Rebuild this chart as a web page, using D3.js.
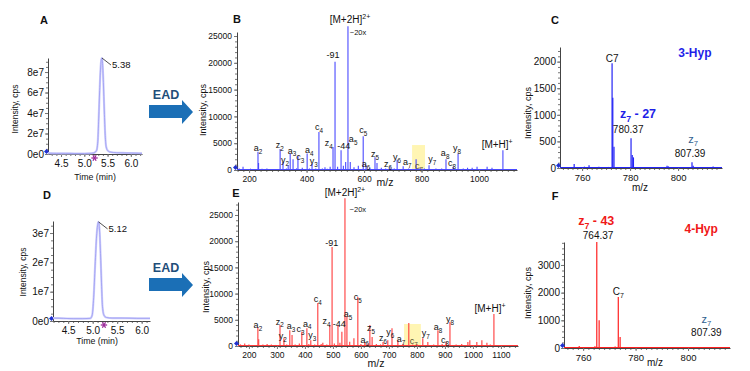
<!DOCTYPE html>
<html>
<head>
<meta charset="utf-8">
<script src="https://cdn.jsdelivr.net/npm/d3@7"></script>
<style>
  body { margin: 0; background: #fff; }
  svg { font-family: "Liberation Sans", Arial, sans-serif; }
</style>
</head>
<body>
<div id="fig"></div>
<script>
// ---- chromatograms (time in min, intensity in cps) ----
const aTime = [4.22, 4.4, 4.6, 4.8, 5.0, 5.1, 5.2, 5.26, 5.29, 5.31, 5.33, 5.35, 5.37, 5.38, 5.39, 5.41, 5.43, 5.45, 5.47, 5.5, 5.55, 5.7, 5.9, 6.1, 6.24];
const aInt = [0.08, 0.06, 0.06, 0.05, 0.05, 0.06, 0.1, 0.3, 1.2, 3.5, 6.2, 8.4, 9.3, 9.37, 9.0, 7.0, 4.2, 1.8, 0.7, 0.35, 0.2, 0.12, 0.1, 0.08, 0.07].map(v => v * 1e7);
const dTime = [4.19, 4.4, 4.6, 4.8, 4.95, 4.99, 5.02, 5.05, 5.08, 5.11, 5.12, 5.14, 5.16, 5.18, 5.2, 5.23, 5.28, 5.4, 5.6, 5.9, 6.17];
const dInt = [0.1, 0.09, 0.08, 0.08, 0.09, 0.2, 0.8, 1.9, 2.9, 3.35, 3.38, 3.1, 2.3, 1.3, 0.5, 0.2, 0.12, 0.1, 0.1, 0.09, 0.09].map(v => v * 1e7);
const aYTicks = [0, 2e7, 4e7, 6e7, 8e7];
const dYTicks = [0, 1e7, 2e7, 3e7];
const timeTicks = [4.5, 5.0, 5.5, 6.0];

// ---- EAD spectra, full range ----
const bMz = [160, 166, 179, 190, 205, 218, 231, 233, 245, 262, 275, 290, 308, 318, 330, 336, 343, 353, 365, 370, 385, 402, 410, 419, 432, 443, 455, 464, 472, 482, 492, 499, 508, 520, 528, 536, 544, 552, 565, 580, 597, 607, 620, 638, 645, 660, 675, 690, 705, 715, 736, 755, 781, 795, 810, 826, 850, 870, 885, 910, 927, 945, 960, 976, 993, 1010, 1028, 1045, 1060, 1083, 1100, 1120];
const bInt = [900, 300, 600, 200, 250, 150, 3400, 1300, 250, 300, 200, 200, 3900, 1500, 300, 900, 3100, 2000, 300, 2600, 400, 3100, 300, 1100, 300, 7100, 300, 500, 250, 600, 4300, 20200, 600, 3700, 800, 1500, 26800, 1500, 500, 800, 6300, 900, 400, 2400, 1300, 400, 300, 600, 300, 1900, 700, 300, 2000, 400, 300, 900, 300, 300, 2000, 600, 3100, 300, 400, 400, 600, 200, 600, 400, 200, 3700, 150, 150];
const eMz = [163, 170, 185, 200, 215, 232, 235, 250, 265, 280, 295, 311, 325, 335, 346, 354, 365, 380, 389, 407, 414, 421, 435, 446, 458, 464, 478, 489, 497, 505, 518, 525, 532, 543, 550, 560, 575, 589, 600, 614, 625, 632, 640, 655, 670, 679, 696, 711, 732, 750, 771, 785, 800, 821, 839, 860, 875, 890, 904, 918, 940, 960, 982, 989, 1014, 1032, 1050, 1062, 1075, 1100, 1130, 1150];
const eInt = [700, 300, 500, 300, 200, 3600, 1300, 300, 400, 300, 200, 4000, 1500, 300, 3000, 2100, 300, 500, 2700, 3400, 400, 1100, 300, 8200, 400, 600, 300, 4000, 18900, 500, 4000, 600, 2700, 28200, 5700, 800, 1500, 9350, 400, 750, 500, 4000, 1700, 400, 300, 750, 1100, 3400, 1100, 400, 4400, 300, 400, 1500, 750, 300, 3000, 400, 750, 4600, 300, 400, 750, 1100, 750, 1100, 600, 300, 6100, 200, 200, 150];
const bMzTicks = [200, 400, 600, 800, 1000];
const eMzTicks = [200, 300, 400, 500, 600, 700, 800, 900, 1000, 1100];
const specYTicks = [0, 5000, 10000, 15000, 20000, 25000];

// fragment labels: [text, subscript, m/z, intensity at baseline]
const bLabels = [
  ["a", "2", 231, 3500], ["z", "2", 307, 4050], ["y", "2", 325, 1300], ["a", "3", 349, 3050],
  ["c", "3", 378, 1800], ["a", "4", 409, 3150], ["y", "3", 425, 1050], ["c", "4", 443, 7460],
  ["z", "4", 477, 4480], ["-44", "", 529, 3900], ["-91", "", 492, 20900], ["a", "5", 562, 5220],
  ["c", "5", 597, 6900], ["a", "6", 607, 560], ["z", "5", 638, 2430], ["z", "6", 683, 560],
  ["y", "6", 715, 1870], ["a", "7", 750, 930], ["c", "7", 791, 190], ["y", "7", 837, 1490],
  ["a", "8", 882, 2610], ["c", "8", 906, 750], ["y", "8", 923, 3540]
];
const eLabels = [
  ["a", "2", 232, 3440], ["z", "2", 310, 4050], ["y", "2", 321, 1300], ["a", "3", 350, 3240],
  ["c", "3", 384, 2600], ["a", "4", 408, 3700], ["y", "3", 426, 1550], ["c", "4", 446, 8400],
  ["-91", "", 496, 19080], ["z", "4", 477, 4200], ["-44", "", 523, 3630], ["a", "5", 554, 5530],
  ["c", "5", 589, 8800], ["a", "6", 614, 570], ["z", "5", 636, 2860], ["z", "6", 679, 950],
  ["y", "6", 705, 2100], ["a", "7", 743, 760], ["c", "7", 789, 380], ["y", "7", 832, 1900],
  ["a", "8", 875, 3050], ["c", "8", 900, 570], ["y", "8", 918, 4580]
];
// precursor labels: [text, superscript, m/z, intensity]
const bPrecursor = [["[M+2H]", "2+", 551, 27400], ["[M+H]", "+", 1063, 4100]];
const ePrecursor = [["[M+2H]", "2+", 543, 28600], ["[M+H]", "+", 1061, 6490]];
const bZoomNote = [579, 25200];
const eZoomNote = [589, 25570];
const bHighlight = [767, 812, 4660];
const eHighlight = [754, 814, 4200];

// ---- zoomed spectra around c7 ----
const cMz = [751.5, 754, 756.7, 759, 761, 762.9, 765, 767, 769, 771, 772.5, 772.8, 773.3, 775, 777, 779, 780.4, 780.9, 781.4, 783, 785, 787, 790, 793, 795.4, 796, 799, 802, 805.8, 806.3, 809, 812, 814.6, 817];
const cInt = [20, 15, 75, 20, 25, 50, 20, 25, 15, 20, 1970, 1320, 400, 20, 15, 20, 560, 245, 200, 20, 15, 20, 15, 20, 40, 30, 15, 20, 110, 40, 20, 15, 30, 15];
const fMz = [754, 756, 758.5, 760.5, 762.7, 764.5, 765.2, 766.1, 768, 770, 772.2, 773.4, 774.1, 776, 778, 781.8, 784, 787, 790, 793, 797, 800, 802, 804.7, 807, 810, 813, 815];
const fInt = [15, 20, 70, 20, 40, 60, 3830, 1000, 20, 15, 50, 1840, 400, 20, 15, 30, 15, 20, 15, 20, 30, 15, 20, 40, 20, 15, 20, 15];
const zoomMzTicks = [760, 780, 800];
const cYTicks = [0, 500, 1000, 1500, 2000];
const fYTicks = [0, 1000, 2000, 3000];

const W = 750, H = 371;
const svg = d3.select("#fig").append("svg").attr("width", W).attr("height", H);

function axes(g, x, y, c) {
  const x0 = x.range()[0], yb = y.range()[0];
  const mx = g.append("g").attr("transform", `translate(0,${yb})`)
    .call(d3.axisBottom(x).tickValues(c.xMinor).tickSize(2).tickFormat(""));
  mx.select(".domain").remove();
  const my = g.append("g").attr("transform", `translate(${x0},0)`)
    .call(d3.axisLeft(y).tickValues(c.yMinor).tickSize(2).tickFormat(""));
  my.select(".domain").remove();
  g.append("g").attr("transform", `translate(0,${yb})`)
    .call(d3.axisBottom(x).tickValues(c.xTicks).tickSize(3).tickSizeOuter(0)
      .tickPadding(c.xPad).tickFormat(c.xFmt))
    .selectAll("text").attr("font-size", c.xFont).attr("fill", "#111");
  g.append("g").attr("transform", `translate(${x0},0)`)
    .call(d3.axisLeft(y).tickValues(c.yTicks).tickSize(3).tickSizeOuter(0)
      .tickPadding(c.yPad).tickFormat(c.yFmt))
    .selectAll("text").attr("font-size", c.yFont).attr("fill", "#111");
  g.selectAll(".domain").attr("stroke", "#444");
  g.selectAll(".tick line").attr("stroke", "#777");
  g.selectAll("text").attr("font-family", null);

  // blue marker at origin
  g.append("path")
    .attr("d", `M${x0 - 4},${yb - 2.5} l2.5,-2.5 l2.5,2.5 l-2.5,2.5 z`)
    .attr("fill", "#1f2fd0");

  g.append("text").attr("transform", `translate(${c.yTitle[0]},${c.yTitle[1]}) rotate(-90)`)
    .attr("text-anchor", "middle").attr("dy", "0.35em")
    .attr("font-size", c.yTitleFont).attr("fill", "#111").text("Intensity, cps");
  if (c.xTitleText) {
    g.append("text").attr("x", c.xTitle[0]).attr("y", c.xTitle[1])
      .attr("text-anchor", "middle").attr("font-size", c.xTitleFont).attr("fill", "#111")
      .text(c.xTitleText);
  }
}

function sciFmt(d) { return d === 0 ? "0e0" : (d / 1e7) + "e7"; }

function chromatogram(c) {
  const x = d3.scaleLinear().domain(c.xDomain).range(c.xRange);
  const y = d3.scaleLinear().domain(c.yDomain).range(c.yRange);
  const g = svg.append("g");
  axes(g, x, y, c);
  const pts = d3.zip(c.time, c.int);
  const line = d3.line().x(d => x(d[0])).y(d => y(d[1])).curve(d3.curveMonotoneX);
  g.append("path").datum(pts).attr("d", line)
    .attr("fill", "none").attr("stroke", "#cfcffb").attr("stroke-width", 2.2);
  g.append("path").datum(pts).attr("d", line)
    .attr("fill", "none").attr("stroke", "#9a9af2").attr("stroke-width", 0.8);
  // apex annotation
  const apex = pts[d3.maxIndex(pts, d => d[1])];
  const ax = x(apex[0]), ay = y(apex[1]);
  g.append("line").attr("x1", ax).attr("y1", ay).attr("x2", ax + 9).attr("y2", ay + 7)
    .attr("stroke", "#222").attr("stroke-width", 0.8);
  g.append("text").attr("x", ax + 10).attr("y", ay + 10).attr("font-size", 9.5)
    .attr("fill", "#111").text(apex[0].toFixed(2));
  // injection mark under the axis
  const sx = x(c.mark), sy = y.range()[0] + 4;
  const star = g.append("g").attr("stroke", "#9b2a9b").attr("stroke-width", 1.3);
  [0, 60, 120].forEach(a => {
    const r = a * Math.PI / 180;
    star.append("line").attr("x1", sx - 3.2 * Math.cos(r)).attr("y1", sy - 3.2 * Math.sin(r))
      .attr("x2", sx + 3.2 * Math.cos(r)).attr("y2", sy + 3.2 * Math.sin(r));
  });
}

function addLabel(g, px, py, txt, small, opt) {
  const t = g.append("text").attr("x", px).attr("y", py).attr("text-anchor", "middle")
    .attr("font-size", opt.size).attr("fill", opt.color || "#111")
    .attr("font-weight", opt.bold ? "bold" : null);
  t.append("tspan").text(txt);
  if (small) {
    t.append("tspan").attr("font-size", opt.size * 0.7)
      .attr("dy", opt.sup ? -opt.size * 0.4 : opt.size * 0.3).text(small);
  }
  if (opt.tail) t.append("tspan").attr("dy", opt.sup ? opt.size * 0.4 : -opt.size * 0.3).text(opt.tail);
  return t;
}

function spectrum(c) {
  const x = d3.scaleLinear().domain(c.xDomain).range(c.xRange);
  const y = d3.scaleLinear().domain(c.yDomain).range(c.yRange);
  const g = svg.append("g");
  if (c.box) {
    g.append("rect").attr("x", x(c.box[0])).attr("y", y(c.box[2]))
      .attr("width", x(c.box[1]) - x(c.box[0])).attr("height", y(0) - y(c.box[2]))
      .attr("fill", "#fff3a6").attr("opacity", 0.85);
  }
  g.selectAll("line.pk").data(d3.zip(c.mz, c.int)).join("line").attr("class", "pk")
    .attr("x1", d => x(d[0])).attr("x2", d => x(d[0]))
    .attr("y1", y(0)).attr("y2", d => y(d[1]))
    .attr("stroke", c.color).attr("stroke-width", c.barW || 1.1);
  axes(g, x, y, c);
  g.append("line").attr("x1", x.range()[0]).attr("x2", x.range()[1])
    .attr("y1", y(0) - 0.5).attr("y2", y(0) - 0.5)
    .attr("stroke", c.color).attr("stroke-width", 1);
  return { g, x, y };
}

// ---- arrows ----
[0, 173].forEach(dy => {
  svg.append("path")
    .attr("d", `M149,${105 + dy} L182,${105 + dy} L182,${100 + dy} L193,${112 + dy} L182,${124 + dy} L182,${118 + dy} L149,${118 + dy} Z`)
    .attr("fill", "#1b6fb6");
  svg.append("text").attr("x", 166).attr("y", 99 + dy).attr("text-anchor", "middle")
    .attr("font-size", 12.5).attr("font-weight", "bold").attr("fill", "#1f4e79").text("EAD");
});

// ---- panel letters ----
[["A", 44, 24], ["D", 47, 199], ["B", 237, 23], ["E", 236, 197], ["C", 555, 24], ["F", 555, 200]]
  .forEach(p => svg.append("text").attr("x", p[1]).attr("y", p[2]).attr("text-anchor", "middle")
    .attr("font-size", 11).attr("font-weight", "bold").attr("fill", "#111").text(p[0]));

// ---- A / D ----
const chromCommon = {
  xTicks: timeTicks, xFmt: d3.format(".1f"), xPad: 3, xFont: 10, yPad: 1, yFont: 10,
  yFmt: sciFmt, yTitleFont: 8.5, xTitleFont: 8.8, xTitleText: "Time (min)"
};
chromatogram(Object.assign({}, chromCommon, {
  time: aTime, int: aInt, xDomain: [4.22, 6.24], xRange: [48, 142], yDomain: [0, 9.37e7], yRange: [154, 58],
  yTicks: aYTicks, xMinor: d3.range(4.3, 6.21, 0.1), yMinor: d3.range(0, 9.3e7, 0.5e7),
  yTitle: [15, 109], xTitle: [95, 180], mark: 5.22
}));
chromatogram(Object.assign({}, chromCommon, {
  time: dTime, int: dInt, xDomain: [4.19, 6.17], xRange: [53, 150], yDomain: [0, 3.41e7], yRange: [321, 221],
  yTicks: dYTicks, xMinor: d3.range(4.2, 6.16, 0.1), yMinor: d3.range(0, 3.4e7, 0.25e7),
  yTitle: [23, 272], xTitle: [97, 344], mark: 5.23
}));

// ---- B / E ----
function fullSpectrum(c, labels, prec, note) {
  const s = spectrum(c);
  labels.forEach(l => addLabel(s.g, s.x(l[2]), s.y(l[3]), l[0], l[1],
    { size: 9, color: l[0] === "c" && l[1] === "7" ? "#5a5030" : "#111" }));
  prec.forEach(p => addLabel(s.g, s.x(p[2]), s.y(p[3]), p[0], p[1], { size: 10, sup: true }));
  s.g.append("text").attr("x", s.x(note[0])).attr("y", s.y(note[1])).attr("text-anchor", "middle")
    .attr("font-size", 7.5).attr("fill", "#111").text("~20x");
  s.g.append("text").attr("x", c.mzTitle[0]).attr("y", c.mzTitle[1]).attr("text-anchor", "middle")
    .attr("font-size", 10.5).attr("fill", "#111").text("m/z");
}
const fullCommon = {
  xFmt: d3.format("d"), xPad: 3, xFont: 8.5, yPad: 2, yFont: 8.5, yFmt: d3.format("d"),
  yTicks: specYTicks, yTitleFont: 9, xTitleText: ""
};
fullSpectrum(Object.assign({}, fullCommon, {
  mz: bMz, int: bInt, color: "#4a4aff", xDomain: [158, 1132], xRange: [237, 517],
  yDomain: [0, 25750], yRange: [170, 32], xTicks: bMzTicks,
  xMinor: d3.range(160, 1131, 20), yMinor: d3.range(0, 25700, 1000),
  yTitle: [203, 110], mzTitle: [385, 186], box: bHighlight
}), bLabels, bPrecursor, bZoomNote);
fullSpectrum(Object.assign({}, fullCommon, {
  mz: eMz, int: eInt, color: "#ff3b3b", xDomain: [161, 1161], xRange: [238, 518],
  yDomain: [0, 27480], yRange: [346, 202], xTicks: eMzTicks,
  xMinor: d3.range(170, 1160, 20), yMinor: d3.range(0, 27400, 1000),
  yTitle: [206, 287], mzTitle: [376, 367], box: eHighlight
}), eLabels, ePrecursor, eZoomNote);

// ---- C / F ----
const zoomCommon = {
  xTicks: zoomMzTicks, xFmt: d3.format("d"), xPad: 3, xFont: 9.5, yPad: 1, yFont: 10,
  yFmt: d3.format("d"), yTitleFont: 9, xTitleText: "", barW: 1.2
};
const sc = spectrum(Object.assign({}, zoomCommon, {
  mz: cMz, int: cInt, color: "#2424f5", xDomain: [750.8, 818.3], xRange: [560, 722],
  yDomain: [0, 2275], yRange: [168, 47], yTicks: cYTicks,
  xMinor: d3.range(752, 818, 2), yMinor: d3.range(0, 2270, 100), yTitle: [528, 113]
}));
addLabel(sc.g, sc.x(772.5), sc.y(1990), "C7", "", { size: 10 });
addLabel(sc.g, sc.x(807), sc.y(2090), "3-Hyp", "", { size: 12, bold: true, color: "#1f1fe8" });
addLabel(sc.g, sc.x(783.3), sc.y(940), "z", "7", { size: 12.5, bold: true, color: "#1f1fe8", tail: " - 27" });
addLabel(sc.g, sc.x(779.2), sc.y(660), "780.37", "", { size: 10 });
addLabel(sc.g, sc.x(806.3), sc.y(470), "z", "7", { size: 11, color: "#2f5f8f" });
addLabel(sc.g, sc.x(805), sc.y(200), "807.39", "", { size: 10 });
sc.g.append("text").attr("x", 640).attr("y", 191).attr("text-anchor", "middle")
  .attr("font-size", 10).attr("fill", "#111").text("m/z");

const sf = spectrum(Object.assign({}, zoomCommon, {
  mz: fMz, int: fInt, color: "#ff2020", xDomain: [752.7, 816], xRange: [564, 730],
  yDomain: [0, 3830], yRange: [348, 242], yTicks: fYTicks,
  xMinor: d3.range(754, 816, 2), yMinor: d3.range(0, 3820, 200), yTitle: [528, 293]
}));
addLabel(sf.g, sf.x(765), sf.y(4440), "z", "7", { size: 12.5, bold: true, color: "#f01818", tail: " - 43" });
addLabel(sf.g, sf.x(765.7), sf.y(3930), "764.37", "", { size: 10 });
addLabel(sf.g, sf.x(805), sf.y(4150), "4-Hyp", "", { size: 12, bold: true, color: "#f01818" });
addLabel(sf.g, sf.x(773.4), sf.y(1910), "C", "7", { size: 10 });
addLabel(sf.g, sf.x(807), sf.y(900), "z", "7", { size: 11, color: "#2f5f8f" });
addLabel(sf.g, sf.x(807), sf.y(430), "807.39", "", { size: 10 });
sf.g.append("text").attr("x", 655).attr("y", 366).attr("text-anchor", "middle")
  .attr("font-size", 10).attr("fill", "#111").text("m/z");
</script>
</body>
</html>
